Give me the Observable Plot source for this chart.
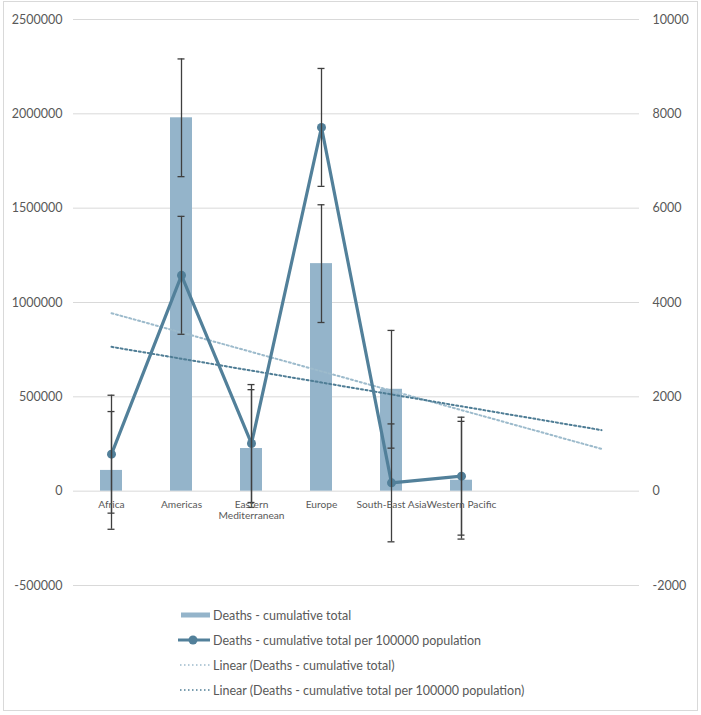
<!DOCTYPE html>
<html>
<head>
<meta charset="utf-8">
<script src="https://cdn.jsdelivr.net/npm/d3@7"></script>
<script src="https://cdn.jsdelivr.net/npm/@observablehq/plot@0.6"></script>
<style>
  html, body { margin: 0; padding: 0; background: #fff; }
  body { position: relative; width: 701px; height: 715px; overflow: hidden; font-family: Lato, "Open Sans", sans-serif; }
  #frame { position: absolute; left: 3px; top: 1px; width: 693px; height: 708px; border: 1px solid #d9d9d9; box-sizing: content-box; }
  #chart { position: absolute; left: 0; top: 0; }
  #legend { position: absolute; left: 0; top: 0; }
  .item { position: absolute; left: 178px; height: 16px; display: flex; align-items: center; font-size: 12.5px; color: #595959; white-space: nowrap; }
  .item svg { width: 34px; height: 12px; margin-right: 1px; }
</style>
</head>
<body>
<div id="frame"></div>
<div id="chart"></div>
<div id="legend"></div>
<script>
const regions = ["Africa", "Americas", "Eastern Mediterranean", "Europe", "South-East Asia", "Western Pacific"];
const regionLabels = ["Africa", "Americas", "Eastern\nMediterranean", "Europe", "South-East Asia", "Western Pacific"];
const forecastSlots = ["_f1", "_f2"];
const deathsTotal = [110000, 1979000, 226000, 1206000, 540000, 58000];
const deathsPer100k = [784, 4576, 1010, 7712, 176, 318];
const totalError = 312000;
const per100kError = 1250;
const leftTicks = [-500000, 0, 500000, 1000000, 1500000, 2000000, 2500000];
const rightTicks = [-2000, 0, 2000, 4000, 6000, 8000, 10000];
const legendLabels = [
  "Deaths - cumulative total",
  "Deaths - cumulative total per 100000 population",
  "Linear (Deaths - cumulative total)",
  "Linear (Deaths - cumulative total per 100000 population)"
];

const ratio = 2500000 / 10000; // right axis -> left axis
const domainX = regions.concat(forecastSlots);

const data = regions.map((r, i) => ({
  region: r, label: regionLabels[i], total: deathsTotal[i], rate: deathsPer100k[i]
}));

// Excel-style linear trendline (x = 1..n), forecast forward 2 periods
function trend(values) {
  const xs = values.map((_, i) => i + 1);
  const mx = d3.mean(xs), my = d3.mean(values);
  let sxy = 0, sxx = 0;
  xs.forEach((x, i) => { sxy += (x - mx) * (values[i] - my); sxx += (x - mx) ** 2; });
  const b = sxy / sxx, a = my - b * mx;
  return domainX.map((c, i) => ({ region: c, value: a + b * (i + 1) }));
}
const trendTotal = trend(deathsTotal);
const trendRate = trend(deathsPer100k).map(d => ({ region: d.region, value: d.value * ratio }));

const barColor = "#94b4ca";
const lineColor = "#52809a";
const trendLight = "#9dbbcc";
const trendDark = "#4f7d95";
const errColor = "#3f3f3f";
const textColor = "#595959";

const chart = Plot.plot({
  width: 701,
  height: 600,
  marginTop: 19,
  marginBottom: 15,
  marginLeft: 73,
  marginRight: 62,
  style: { fontFamily: "Lato, 'Open Sans', sans-serif", fontSize: "12.5px", color: textColor, background: "transparent" },
  x: { domain: domainX, paddingInner: 0.69, paddingOuter: 0.345, axis: null },
  y: { domain: [-500000, 2500000], axis: null },
  marks: [
    Plot.ruleY(leftTicks, { stroke: "#d9d9d9", strokeWidth: 1 }),
    Plot.axisY(leftTicks, { anchor: "left", tickSize: 0, tickPadding: 11, tickFormat: d => String(d), label: null, fill: textColor }),
    Plot.axisY(leftTicks, { anchor: "right", tickSize: 0, tickPadding: 13, tickFormat: d => String(d / ratio), label: null, fill: textColor }),
    Plot.barY(data, { x: "region", y: "total", fill: barColor }),
    Plot.line(trendTotal, { x: "region", y: "value", stroke: trendLight, strokeWidth: 2, strokeDasharray: "2,2.6" }),
    Plot.line(trendRate, { x: "region", y: "value", stroke: trendDark, strokeWidth: 2, strokeDasharray: "2,2.6" }),
    Plot.line(data, { x: "region", y: d => d.rate * ratio, stroke: lineColor, strokeWidth: 3.2 }),
    Plot.dot(data, { x: "region", y: d => d.rate * ratio, r: 4.5, fill: lineColor, stroke: "none" }),
    // error bars: bar series
    Plot.ruleX(data, { x: "region", y1: d => d.total - totalError, y2: d => d.total + totalError, stroke: errColor, strokeWidth: 1.3 }),
    Plot.tickY(data, { x: "region", y: d => d.total + totalError, stroke: errColor, strokeWidth: 1.3, insetLeft: 7.5, insetRight: 7.5 }),
    Plot.tickY(data, { x: "region", y: d => d.total - totalError, stroke: errColor, strokeWidth: 1.3, insetLeft: 7.5, insetRight: 7.5 }),
    // error bars: line series
    Plot.ruleX(data, { x: "region", y1: d => (d.rate - per100kError) * ratio, y2: d => (d.rate + per100kError) * ratio, stroke: errColor, strokeWidth: 1.3 }),
    Plot.tickY(data, { x: "region", y: d => (d.rate + per100kError) * ratio, stroke: errColor, strokeWidth: 1.3, insetLeft: 7.5, insetRight: 7.5 }),
    Plot.tickY(data, { x: "region", y: d => (d.rate - per100kError) * ratio, stroke: errColor, strokeWidth: 1.3, insetLeft: 7.5, insetRight: 7.5 }),
    // category labels
    Plot.text(data, { x: "region", y: 0, text: "label", dy: 8, lineAnchor: "top", lineHeight: 1.15, fill: textColor, fontSize: 10.2 })
  ]
});
document.getElementById("chart").appendChild(chart);

// legend
const legend = document.getElementById("legend");
const symbols = [
  `<svg viewBox="0 0 34 12"><rect x="3" y="3.5" width="29" height="5" fill="${barColor}"/></svg>`,
  `<svg viewBox="0 0 34 12"><line x1="0" y1="6" x2="32" y2="6" stroke="${lineColor}" stroke-width="3"/><circle cx="15" cy="6" r="4.5" fill="${lineColor}"/></svg>`,
  `<svg viewBox="0 0 34 12"><line x1="2" y1="6" x2="32" y2="6" stroke="${trendLight}" stroke-width="1.5" stroke-dasharray="1.5,2.5"/></svg>`,
  `<svg viewBox="0 0 34 12"><line x1="2" y1="6" x2="32" y2="6" stroke="${trendDark}" stroke-width="1.5" stroke-dasharray="1.5,2.5"/></svg>`
];
const tops = [607, 632, 657, 682];
legendLabels.forEach((t, i) => {
  const div = document.createElement("div");
  div.className = "item";
  div.style.top = tops[i] + "px";
  div.innerHTML = symbols[i];
  const span = document.createElement("span");
  span.textContent = t;
  div.appendChild(span);
  legend.appendChild(div);
});
</script>
</body>
</html>
